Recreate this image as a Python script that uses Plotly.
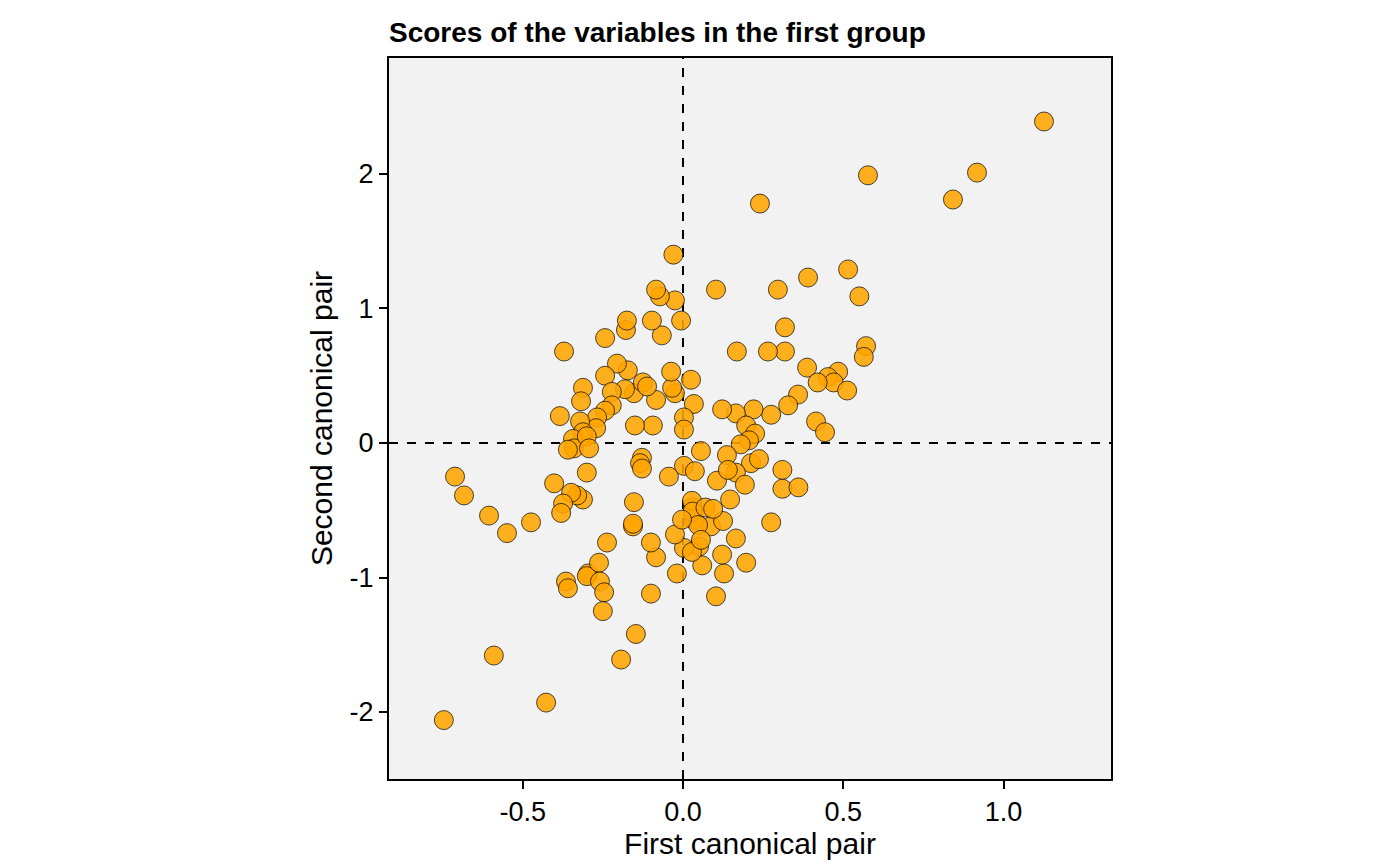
import plotly.graph_objects as go

x_scores = [
    1.126, 0.917, 0.842, 0.577, 0.24, -0.03, 0.103, 0.296, 0.39, 0.515,
    0.55, 0.318, 0.318, 0.168, 0.265, 0.571, 0.564, 0.387, 0.484, 0.452,
    0.47, 0.512, 0.42, 0.359, 0.328, 0.275, 0.415, 0.443, 0.22, 0.165,
    0.122, 0.197, 0.225, 0.206, 0.18, 0.212, 0.237, 0.165, 0.193, 0.106,
    0.137, 0.14, 0.31, 0.31, 0.36, 0.147, 0.275, 0.165, 0.197, 0.128,
    0.103, 0.06, 0.05, 0.087, 0.125, 0.034, 0.031, 0.028, 0.03, 0.047,
    0.07, 0.003, 0.028, -0.025, -0.003, -0.019, -0.1, -0.084, -0.1, -0.044,
    0.003, 0.037, 0.056, 0.034, 0.025, 0.003, 0.003, -0.025, -0.034, -0.037,
    -0.006, -0.025, -0.066, -0.072, -0.084, -0.097, -0.084, -0.094, -0.153, -0.125,
    -0.112, -0.181, -0.172, -0.15, -0.128, -0.134, -0.128, -0.153, -0.156, -0.147,
    -0.193, -0.178, -0.175, -0.206, -0.243, -0.222, -0.222, -0.243, -0.268, -0.243,
    -0.312, -0.318, -0.271, -0.321, -0.312, -0.343, -0.34, -0.359, -0.384, -0.371,
    -0.3, -0.293, -0.3, -0.312, -0.33, -0.349, -0.374, -0.38, -0.402, -0.365,
    -0.359, -0.296, -0.3, -0.262, -0.259, -0.246, -0.25, -0.237, -0.427, -0.59,
    -0.746, -0.711, -0.683, -0.605, -0.549, -0.474, 0.094, 0.056, 0.122, -0.156,
]
y_scores = [
    2.39, 2.01, 1.81, 1.99, 1.78, 1.40, 1.14, 1.14, 1.23, 1.29,
    1.09, 0.86, 0.68, 0.68, 0.68, 0.72, 0.64, 0.56, 0.53, 0.49,
    0.45, 0.39, 0.45, 0.36, 0.28, 0.21, 0.16, 0.08, 0.25, 0.22,
    0.25, 0.13, 0.07, 0.02, -0.01, -0.15, -0.12, -0.22, -0.31, -0.28,
    -0.09, -0.20, -0.20, -0.34, -0.33, -0.42, -0.59, -0.71, -0.89, -0.97,
    -1.14, -0.91, -0.77, -0.62, -0.58, -0.57, -0.48, -0.43, -0.51, -0.61,
    -0.48, -0.78, -0.81, -0.68, -0.57, -0.97, -1.12, -0.85, -0.74, -0.25,
    -0.17, -0.21, -0.06, 0.29, 0.47, 0.19, 0.10, 0.37, 0.41, 0.53,
    0.91, 1.06, 0.80, 1.09, 1.14, 0.91, 0.32, 0.13, 0.37, 0.45,
    0.42, 0.40, 0.54, 0.13, -0.11, -0.15, -0.19, -0.44, -0.62, -1.42,
    -1.61, 0.84, 0.91, 0.59, 0.50, 0.38, 0.28, 0.24, 0.19, 0.78,
    0.41, 0.31, 0.11, 0.16, 0.08, 0.03, -0.04, -0.05, 0.20, 0.68,
    0.05, -0.04, -0.22, -0.42, -0.39, -0.37, -0.45, -0.52, -0.30, -1.03,
    -1.08, -0.97, -0.99, -0.89, -1.03, -1.11, -1.25, -0.74, -1.93, -1.58,
    -2.06, -0.25, -0.39, -0.54, -0.67, -0.59, -0.49, -0.72, -0.83, -0.60,
]
x_ticks = [-0.5, 0, 0.5, 1.0]
x_ticklabels = ['-0.5', '0.0', '0.5', '1.0']
y_ticks = [-2, -1, 0, 1, 2]
y_ticklabels = ['-2', '-1', '0', '1', '2']

fig = go.Figure()
fig.add_trace(go.Scatter(
    x=x_scores, y=y_scores, mode='markers',
    marker=dict(size=19, color='rgba(255,165,0,0.88)',
                line=dict(color='black', width=0.7)),
    showlegend=False,
))

for shape in [dict(type='line', x0=0, x1=0, y0=0, y1=1, xref='x', yref='paper'),
              dict(type='line', x0=0, x1=1, y0=0, y1=0, xref='paper', yref='y')]:
    shape['line'] = dict(color='black', width=2, dash='dash')
    shape['layer'] = 'below'
    fig.add_shape(**shape)

axis_common = dict(showgrid=False, zeroline=False, ticks='outside', ticklen=8,
                   tickwidth=1.5, tickcolor='black', showline=True, mirror=True,
                   linecolor='black', linewidth=2,
                   tickfont=dict(size=27, color='black'),
                   title_font=dict(size=30, color='black'))

fig.update_layout(
    width=1400, height=866,
    paper_bgcolor='white', plot_bgcolor='#F2F2F2',
    font=dict(family='Liberation Sans, Arial', color='black'),
    margin=dict(l=381, r=297, t=50, b=95),
    title=dict(text='<b>Scores of the variables in the first group</b>',
               x=381 / 1400, xanchor='left', y=0.972, yanchor='middle',
               font=dict(size=28, color='black')),
    xaxis=dict(title=dict(text='First canonical pair', standoff=2),
               range=[-0.917, 1.335], tickvals=x_ticks,
               ticktext=x_ticklabels, **axis_common),
    yaxis=dict(title=dict(text='Second canonical pair', standoff=8),
               range=[-2.498, 2.862], tickvals=y_ticks,
               ticktext=y_ticklabels, **axis_common),
)

fig.write_html("out.html")
